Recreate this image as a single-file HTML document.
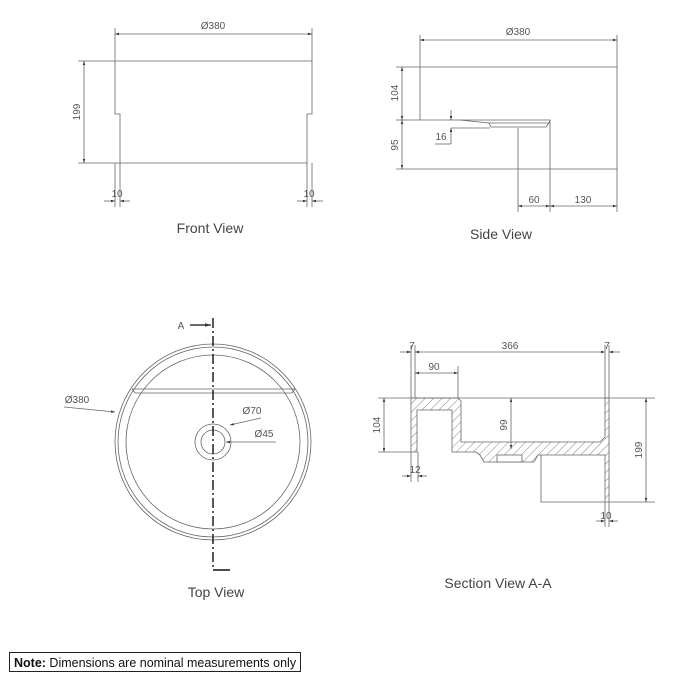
<!DOCTYPE html>
<html><head><style>
html,body{margin:0;padding:0;background:#fff;}
svg{display:block;}
text{font-family:"Liberation Sans",sans-serif;fill:#555;}
.d{font-size:10px;}
.t{font-size:14px;fill:#444;}
</style></head><body>
<svg width="675" height="675" viewBox="0 0 675 675" xmlns="http://www.w3.org/2000/svg">
<defs>
<pattern id="h" width="6" height="6" patternUnits="userSpaceOnUse" patternTransform="rotate(45)">
<line x1="0" y1="0" x2="0" y2="6" stroke="#666" stroke-width="0.8"/>
</pattern>
<marker id="a" viewBox="0 0 10 10" refX="10" refY="5" markerWidth="5" markerHeight="5" orient="auto-start-reverse"><path d="M0,2 L10,5 L0,8z" fill="#333"/></marker>
</defs>
<g stroke="#666" stroke-width="0.8" fill="none">
<!-- Front view -->
<path d="M115,61 H312 V114 H307 V163 H120 V114 H115 Z"/>
<line x1="115" y1="28" x2="115" y2="61"/><line x1="312" y1="28" x2="312" y2="61"/>
<line x1="115" y1="34" x2="312" y2="34" marker-start="url(#a)" marker-end="url(#a)"/>
<line x1="78" y1="61" x2="115" y2="61"/><line x1="78" y1="163" x2="120" y2="163"/>
<line x1="84" y1="61" x2="84" y2="163" marker-start="url(#a)" marker-end="url(#a)"/>
<line x1="115" y1="163" x2="115" y2="207"/><line x1="120" y1="163" x2="120" y2="207"/>
<line x1="104" y1="201" x2="115" y2="201" marker-end="url(#a)"/><line x1="130" y1="201" x2="120" y2="201" marker-end="url(#a)"/>
<line x1="307" y1="163" x2="307" y2="207"/><line x1="312" y1="163" x2="312" y2="207"/>
<line x1="297" y1="201" x2="307" y2="201" marker-end="url(#a)"/><line x1="323" y1="201" x2="312" y2="201" marker-end="url(#a)"/>
<!-- Side view -->
<path d="M420,67 H617 V169 H550 V120 H420 Z"/>
<path d="M460,120 L489,123 L491,127 H546 L549,123 L550,120"/>
<line x1="489" y1="123" x2="549" y2="123"/>
<line x1="420" y1="35" x2="420" y2="67"/><line x1="617" y1="35" x2="617" y2="67"/>
<line x1="420" y1="40" x2="617" y2="40" marker-start="url(#a)" marker-end="url(#a)"/>
<line x1="396" y1="67" x2="420" y2="67"/><line x1="396" y1="120" x2="420" y2="120"/><line x1="396" y1="169" x2="550" y2="169"/>
<line x1="402" y1="67" x2="402" y2="120" marker-start="url(#a)" marker-end="url(#a)"/>
<line x1="402" y1="120" x2="402" y2="169" marker-start="url(#a)" marker-end="url(#a)"/>
<line x1="451" y1="110" x2="451" y2="120" marker-end="url(#a)"/><line x1="451" y1="144" x2="451" y2="128" marker-end="url(#a)"/>
<line x1="451" y1="128" x2="490" y2="128"/><line x1="435" y1="144" x2="451" y2="144"/>
<line x1="518" y1="128" x2="518" y2="212"/><line x1="550" y1="169" x2="550" y2="212"/><line x1="617" y1="169" x2="617" y2="212"/>
<line x1="518" y1="206" x2="550" y2="206" marker-start="url(#a)" marker-end="url(#a)"/>
<line x1="550" y1="206" x2="617" y2="206" marker-start="url(#a)" marker-end="url(#a)"/>
<!-- Top view -->
<circle cx="213" cy="442" r="98"/><circle cx="213" cy="442" r="95"/><circle cx="213" cy="442" r="87"/>
<path d="M132,389 H295 M135,393 H292 M132,389 L135,393 M295,389 L292,393"/>
<circle cx="213" cy="442" r="18"/><circle cx="213" cy="442" r="12"/>
<line x1="213" y1="318" x2="213" y2="570" stroke="#111" stroke-width="1.4" stroke-dasharray="10,3,2,3"/>
<path d="M213,570 H230" stroke="#111" stroke-width="1.6"/>
<line x1="190" y1="325" x2="211" y2="325" stroke="#111" stroke-width="1.2" marker-end="url(#a)"/>
<line x1="64" y1="407" x2="115" y2="412" marker-end="url(#a)"/>
<line x1="261" y1="418" x2="230" y2="425" marker-end="url(#a)"/>
<line x1="276" y1="442" x2="226" y2="442" marker-end="url(#a)"/>
<!-- Section view -->
<path d="M411,398 H458 L461,401 V442 H600 L605,437 V398 H609 V502 H605 V455 H541 L538,455 L534,462 H484 L480,455 L476,452 H452 V410 H417 V452 H411 Z" fill="url(#h)"/>
<rect x="497" y="455" width="25" height="7" fill="#fff"/>
<path d="M541,455 V502 H605"/>
<line x1="411" y1="345" x2="411" y2="398"/><line x1="415" y1="345" x2="415" y2="398"/>
<line x1="605" y1="345" x2="605" y2="398"/><line x1="609" y1="345" x2="609" y2="398"/>
<line x1="400" y1="352" x2="411" y2="352" marker-end="url(#a)"/>
<line x1="415" y1="352" x2="605" y2="352" marker-start="url(#a)" marker-end="url(#a)"/>
<line x1="620" y1="352" x2="609" y2="352" marker-end="url(#a)"/>
<line x1="458" y1="366" x2="458" y2="398"/>
<line x1="415" y1="373" x2="458" y2="373" marker-start="url(#a)" marker-end="url(#a)"/>
<line x1="378" y1="398" x2="655" y2="398"/>
<line x1="378" y1="452" x2="411" y2="452"/>
<line x1="384" y1="398" x2="384" y2="452" marker-start="url(#a)" marker-end="url(#a)"/>
<line x1="511" y1="398" x2="511" y2="449" marker-start="url(#a)" marker-end="url(#a)"/>
<line x1="609" y1="502" x2="655" y2="502"/>
<line x1="646" y1="398" x2="646" y2="502" marker-start="url(#a)" marker-end="url(#a)"/>
<line x1="411" y1="452" x2="411" y2="482"/><line x1="418" y1="452" x2="418" y2="482"/>
<line x1="402" y1="476" x2="411" y2="476" marker-end="url(#a)"/><line x1="427" y1="476" x2="418" y2="476" marker-end="url(#a)"/>
<line x1="605" y1="502" x2="605" y2="527"/><line x1="609" y1="502" x2="609" y2="527"/>
<line x1="596" y1="521" x2="605" y2="521" marker-end="url(#a)"/><line x1="618" y1="521" x2="609" y2="521" marker-end="url(#a)"/>
</g>
<!-- texts -->
<text class="d" x="213" y="29" text-anchor="middle">Ø380</text>
<text class="d" x="80" y="112" text-anchor="middle" transform="rotate(-90 80 112)">199</text>
<text class="d" x="117" y="197" text-anchor="middle">10</text>
<text class="d" x="309" y="197" text-anchor="middle">10</text>
<text class="t" x="210" y="233" text-anchor="middle">Front View</text>
<text class="d" x="518" y="35" text-anchor="middle">Ø380</text>
<text class="d" x="398" y="93" text-anchor="middle" transform="rotate(-90 398 93)">104</text>
<text class="d" x="398" y="145" text-anchor="middle" transform="rotate(-90 398 145)">95</text>
<text class="d" x="441" y="140" text-anchor="middle">16</text>
<text class="d" x="534" y="203" text-anchor="middle">60</text>
<text class="d" x="583" y="203" text-anchor="middle">130</text>
<text class="t" x="501" y="239" text-anchor="middle">Side View</text>
<text class="d" x="181" y="329" text-anchor="middle">A</text>
<text class="d" x="77" y="403" text-anchor="middle">Ø380</text>
<text class="d" x="252" y="414" text-anchor="middle">Ø70</text>
<text class="d" x="264" y="437" text-anchor="middle">Ø45</text>
<text class="t" x="216" y="597" text-anchor="middle">Top View</text>
<text class="d" x="412" y="349" text-anchor="middle">7</text>
<text class="d" x="510" y="349" text-anchor="middle">366</text>
<text class="d" x="607" y="349" text-anchor="middle">7</text>
<text class="d" x="434" y="370" text-anchor="middle">90</text>
<text class="d" x="380" y="425" text-anchor="middle" transform="rotate(-90 380 425)">104</text>
<text class="d" x="507" y="425" text-anchor="middle" transform="rotate(-90 507 425)">99</text>
<text class="d" x="642" y="450" text-anchor="middle" transform="rotate(-90 642 450)">199</text>
<text class="d" x="415" y="473" text-anchor="middle">12</text>
<text class="d" x="606" y="519" text-anchor="middle">10</text>
<text class="t" x="498" y="588" text-anchor="middle">Section View A-A</text>
<rect x="9.5" y="652.5" width="291" height="19" fill="none" stroke="#222" stroke-width="1"/>
<text x="14" y="667" style="font-size:12.5px;fill:#111"><tspan font-weight="bold">Note:</tspan> Dimensions are nominal measurements only</text>
</svg>
</body></html>
